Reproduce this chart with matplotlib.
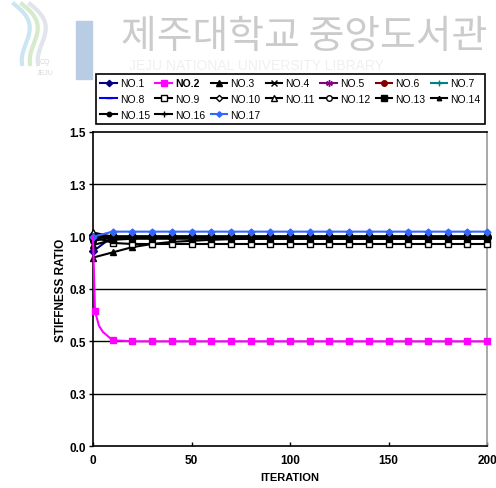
import numpy as np
import matplotlib
matplotlib.use("Agg")
import matplotlib.pyplot as plt
from matplotlib.lines import Line2D
from matplotlib.patches import Rectangle

plt.rcParams['font.family'] = ['Liberation Sans', 'DejaVu Sans']

# ---------------- data ----------------
iterations = [0, 10, 20, 30, 40, 50, 60, 70, 80, 90, 100,
              110, 120, 130, 140, 150, 160, 170, 180, 190, 200]

no2_iter = [0, 1, 3, 5, 10, 20, 30, 40, 50, 60, 70, 80, 90, 100,
            110, 120, 130, 140, 150, 160, 170, 180, 190, 200]
no2_vals = [1.00, 0.645, 0.575, 0.545, 0.505, 0.500, 0.500, 0.500, 0.500, 0.500,
            0.500, 0.500, 0.500, 0.500, 0.500, 0.500, 0.500, 0.500, 0.500, 0.500,
            0.500, 0.500, 0.500, 0.500]

no1 = [0.93, 1.00, 1.00, 1.00, 1.00, 1.00, 1.00, 1.00, 1.00, 1.00, 1.00,
       1.00, 1.00, 1.00, 1.00, 1.00, 1.00, 1.00, 1.00, 1.00, 1.00]
no3 = [0.90, 0.925, 0.950, 0.965, 0.975, 0.980, 0.985, 0.988, 0.990, 0.990, 0.990,
       0.990, 0.990, 0.990, 0.990, 0.990, 0.990, 0.990, 0.990, 0.990, 0.990]
no4 = [1.00, 1.00, 1.00, 1.00, 1.00, 1.00, 1.00, 1.00, 1.00, 1.00, 1.00,
       1.00, 1.00, 1.00, 1.00, 1.00, 1.00, 1.00, 1.00, 1.00, 1.00]
no5 = [1.00, 1.00, 1.00, 1.00, 1.00, 1.00, 1.00, 1.00, 1.00, 1.00, 1.00,
       1.00, 1.00, 1.00, 1.00, 1.00, 1.00, 1.00, 1.00, 1.00, 1.00]
no6 = [0.995, 1.00, 1.00, 1.00, 1.00, 1.00, 1.00, 1.00, 1.00, 1.00, 1.00,
       1.00, 1.00, 1.00, 1.00, 1.00, 1.00, 1.00, 1.00, 1.00, 1.00]
no7 = [1.00, 1.00, 1.00, 1.00, 1.00, 1.00, 1.00, 1.00, 1.00, 1.00, 1.00,
       1.00, 1.00, 1.00, 1.00, 1.00, 1.00, 1.00, 1.00, 1.00, 1.00]
no8 = [1.00, 1.00, 1.00, 1.00, 1.00, 1.00, 1.00, 1.00, 1.00, 1.00, 1.00,
       1.00, 1.00, 1.00, 1.00, 1.00, 1.00, 1.00, 1.00, 1.00, 1.00]
no9 = [1.00, 0.970, 0.965, 0.965, 0.965, 0.965, 0.965, 0.965, 0.965, 0.965, 0.965,
       0.965, 0.965, 0.965, 0.965, 0.965, 0.965, 0.965, 0.965, 0.965, 0.965]
no10 = [1.01, 1.00, 1.00, 1.00, 1.00, 1.00, 1.00, 1.00, 1.00, 1.00, 1.00,
        1.00, 1.00, 1.00, 1.00, 1.00, 1.00, 1.00, 1.00, 1.00, 1.00]
no11 = [1.02, 1.00, 1.00, 1.00, 1.00, 1.00, 1.00, 1.00, 1.00, 1.00, 1.00,
        1.00, 1.00, 1.00, 1.00, 1.00, 1.00, 1.00, 1.00, 1.00, 1.00]
no12 = [1.00, 1.00, 1.00, 1.00, 1.00, 1.00, 1.00, 1.00, 1.00, 1.00, 1.00,
        1.00, 1.00, 1.00, 1.00, 1.00, 1.00, 1.00, 1.00, 1.00, 1.00]
no13 = [1.00, 1.00, 1.00, 1.00, 1.00, 1.00, 1.00, 1.00, 1.00, 1.00, 1.00,
        1.00, 1.00, 1.00, 1.00, 1.00, 1.00, 1.00, 1.00, 1.00, 1.00]
no14 = [0.96, 0.985, 0.990, 0.990, 0.990, 0.990, 0.990, 0.990, 0.990, 0.990, 0.990,
        0.990, 0.990, 0.990, 0.990, 0.990, 0.990, 0.990, 0.990, 0.990, 0.990]
no15 = [0.98, 0.995, 0.995, 0.995, 0.995, 0.995, 0.995, 0.995, 0.995, 0.995, 0.995,
        0.995, 0.995, 0.995, 0.995, 0.995, 0.995, 0.995, 0.995, 0.995, 0.995]
no16 = [1.00, 1.00, 1.00, 1.00, 1.00, 1.00, 1.00, 1.00, 1.00, 1.00, 1.00,
        1.00, 1.00, 1.00, 1.00, 1.00, 1.00, 1.00, 1.00, 1.00, 1.00]
no17 = [1.00, 1.024, 1.024, 1.024, 1.024, 1.024, 1.024, 1.024, 1.024, 1.024, 1.024,
        1.024, 1.024, 1.024, 1.024, 1.024, 1.024, 1.024, 1.024, 1.024, 1.024]

y_ticks = [0.0, 0.25, 0.5, 0.75, 1.0, 1.25, 1.5]
y_tick_labels = ['0.0', '0.3', '0.5', '0.8', '1.0', '1.3', '1.5']
x_ticks = [0, 50, 100, 150, 200]

# name, values, color, marker, marker face, marker size
series = [
    ('NO.1', no1, '#000080', 'D', '#000080', 4),
    ('NO.3', no3, 'black', '^', 'black', 5),
    ('NO.4', no4, 'black', 'x', 'black', 5),
    ('NO.5', no5, '#800080', (6, 2, 0), '#800080', 6),
    ('NO.6', no6, '#800000', 'o', '#800000', 5),
    ('NO.7', no7, '#008080', '+', '#008080', 6),
    ('NO.8', no8, '#0000FF', '_', '#0000FF', 6),
    ('NO.9', no9, 'black', 's', 'white', 5),
    ('NO.10', no10, 'black', 'D', 'white', 4),
    ('NO.11', no11, 'black', '^', 'white', 5),
    ('NO.12', no12, 'black', 'o', 'white', 5),
    ('NO.13', no13, 'black', 's', 'black', 5),
    ('NO.14', no14, 'black', '^', 'black', 4),
    ('NO.15', no15, 'black', 'o', 'black', 4),
    ('NO.16', no16, 'black', '+', 'black', 5),
    ('NO.17', no17, '#3366FF', 'D', '#3366FF', 3.5),
]

fig = plt.figure(figsize=(4.96, 4.89), dpi=100)

# faint library watermark across the top
fig.text(0.243, 0.925, '제주대학교 중앙도서관', fontsize=28, color='#cbcbcb',
         family=['Noto Sans CJK KR', 'DejaVu Sans'], va='center', ha='left')
fig.text(0.26, 1 - 66 / 489, 'JEJU NATIONAL UNIVERSITY LIBRARY', fontsize=10,
         color='#f0f0f0', va='center', ha='left', zorder=1)
fig.patches.append(Rectangle((76 / 496, 1 - 80 / 489), 16 / 496, 58 / 489,
                             transform=fig.transFigure, color='#b8cce3', zorder=0))
t = np.linspace(0, 1, 50)
for dx, col in [(0, '#cbe6f3'), (8, '#d5ebcb'), (16, '#e0e5eb')]:
    xs = (14 + dx + 22 * np.sin(np.pi * t) * (1 - t) + 8 * t) / 496
    ys = 1 - (5 + 60 * t) / 489
    fig.lines.append(Line2D(xs, ys, transform=fig.transFigure, color=col, lw=3))
fig.text(45 / 496, 1 - 63 / 489, 'CQ', fontsize=5, color='#d8d8d8', ha='center', va='center')
fig.text(45 / 496, 1 - 74 / 489, 'JEJU', fontsize=5, color='#d8d8d8', ha='center', va='center')

ax = fig.add_axes([93 / 496, 1 - 447 / 489, 394 / 496, 314 / 489])

handles = {}
for name, vals, col, mk, mfc, ms in series:
    h, = ax.plot(iterations, vals, color=col, lw=1.5, marker=mk, markersize=ms,
                 markerfacecolor=mfc, markeredgecolor=col, markeredgewidth=1.0,
                 clip_on=False, zorder=3)
    handles[name] = h
no2_marks = [i for i, v in enumerate(no2_iter) if v == 1 or v % 10 == 0 and v > 0]
h2, = ax.plot(no2_iter, no2_vals, color='#FF00FF', lw=1.5, marker='s', markersize=5,
              markerfacecolor='#FF00FF', markeredgecolor='#FF00FF',
              markevery=no2_marks, clip_on=False, zorder=3)
handles['NO.2'] = h2

ax.set_xlim(0, 200)
ax.set_ylim(0, 1.5)
ax.set_yticks(y_ticks)
ax.set_yticklabels(y_tick_labels)
ax.set_xticks(x_ticks)
for y in y_ticks[1:-1]:
    ax.axhline(y, color='black', lw=1.0, zorder=1)

ax.tick_params(axis='y', direction='out', length=3, width=1, labelsize=8.5, pad=2)
ax.tick_params(axis='x', direction='in', length=3, width=1, labelsize=8.5, pad=6)
for lbl in ax.get_xticklabels() + ax.get_yticklabels():
    lbl.set_fontweight('bold')
for side in ['left', 'bottom', 'top']:
    ax.spines[side].set_color('black')
    ax.spines[side].set_linewidth(1.2)
ax.spines['right'].set_color('#999999')
ax.spines['right'].set_linewidth(1.2)

ax.set_ylabel('STIFFNESS RATIO', fontsize=8.5, fontweight='bold', labelpad=2)
ax.set_xlabel('ITERATION', fontsize=8, fontweight='bold', labelpad=4)

# legend laid out row by row across seven columns
order = ['NO.1', 'NO.8', 'NO.15', 'NO.2', 'NO.9', 'NO.16', 'NO.3', 'NO.10', 'NO.17',
         'NO.4', 'NO.11', 'NO.5', 'NO.12', 'NO.6', 'NO.13', 'NO.7', 'NO.14']
leg = fig.legend([handles[k] for k in order], order, ncol=7,
                 loc='lower left', mode='expand',
                 bbox_to_anchor=(93 / 496, 1 - 128 / 489, 395 / 496, 55 / 489),
                 fontsize=7.5, frameon=True, fancybox=False, framealpha=1,
                 edgecolor='black', handlelength=1.6, handletextpad=0.3,
                 columnspacing=0.4, labelspacing=0.55, borderaxespad=0.3,
                 markerscale=0.8)
leg.set_zorder(5)
leg.get_frame().set_linewidth(1.2)
for txt in leg.get_texts():
    if txt.get_text() == 'NO.2':
        txt.set_fontweight('bold')

fig.savefig('out.png', dpi=100)
